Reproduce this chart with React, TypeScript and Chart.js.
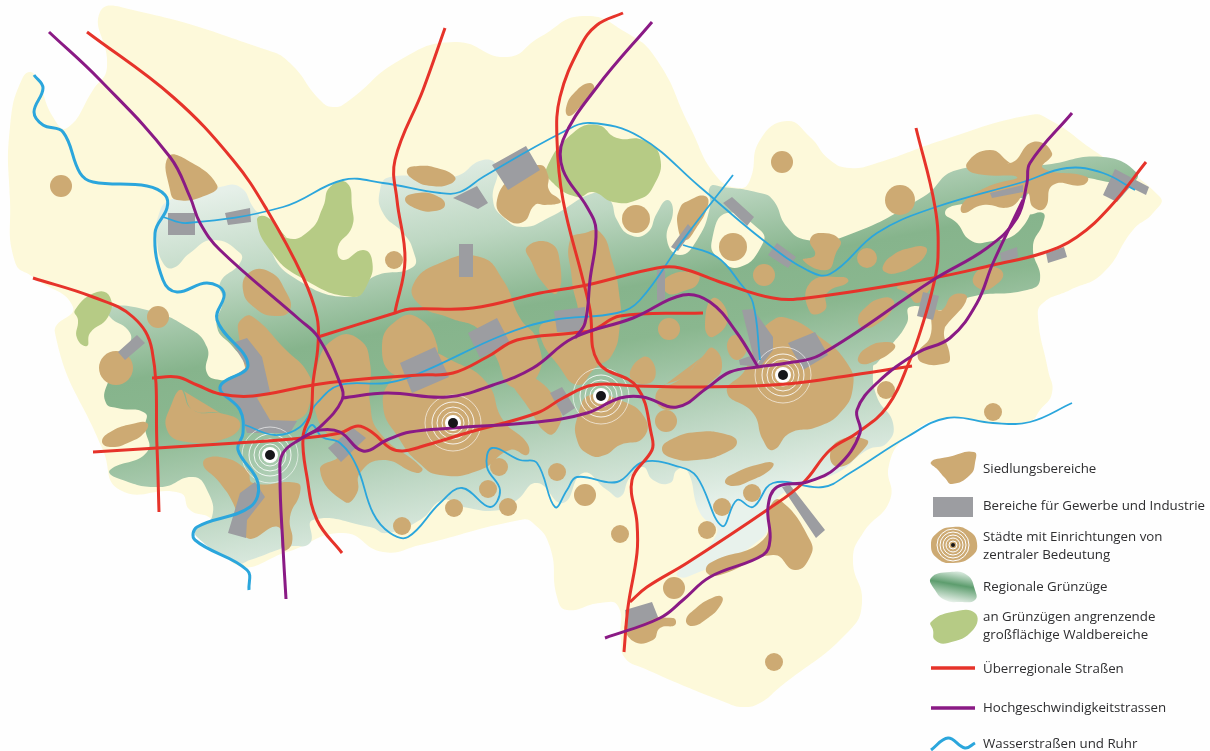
import React, { useEffect, useRef } from "react";
import { Chart, registerables } from "chart.js";

Chart.register(...registerables);

type P = number[];

const regionOutline: P[] = [[100,12],[133,10],[267,50],[290,63],[320,100],[333,107],[347,102],[400,60],[455,42],[507,57],[540,37],[583,16],[627,33],[657,60],[690,127],[717,177],[740,188],[750,180],[760,140],[787,121],[810,137],[830,160],[850,168],[877,163],[943,140],[1030,115],[1050,120],[1093,150],[1160,197],[1153,213],[1133,230],[1103,273],[1070,290],[1043,303],[1038,317],[1048,370],[1052,393],[1040,410],[1030,421],[993,424],[947,418],[907,437],[889,465],[890,500],[863,533],[853,560],[862,603],[847,633],[780,687],[760,703],[743,707],[727,703],[643,668],[625,658],[621,640],[618,606],[600,603],[567,610],[557,597],[550,547],[533,523],[520,520],[420,545],[383,552],[343,533],[287,552],[237,565],[212,520],[190,510],[180,493],[120,490],[103,450],[55,333],[73,307],[33,277],[15,262],[10,200],[10,127],[23,77],[34,74],[53,117],[67,128],[93,90],[107,67]];

const corridorOutline: P[] = [[158,217],[170,200],[220,187],[240,187],[253,207],[260,217],[267,243],[293,277],[353,297],[373,277],[413,267],[413,250],[403,233],[383,213],[380,190],[390,177],[453,177],[483,160],[497,167],[493,200],[503,217],[523,227],[550,217],[597,192],[610,200],[617,220],[630,235],[647,233],[657,213],[667,200],[673,210],[667,240],[680,255],[697,240],[710,207],[710,187],[723,187],[760,193],[773,200],[787,227],[807,240],[843,237],[923,197],[957,170],[1043,165],[1103,157],[1137,173],[1130,183],[1077,177],[1050,178],[1030,190],[1027,213],[1043,213],[1043,223],[1033,247],[1040,280],[1027,290],[970,297],[943,310],[910,307],[907,323],[890,347],[877,363],[873,367],[877,397],[893,423],[887,443],[867,450],[837,473],[803,483],[770,507],[763,537],[687,577],[677,573],[717,533],[700,513],[687,470],[677,470],[670,483],[653,480],[643,467],[630,477],[620,497],[607,490],[583,473],[563,503],[537,483],[517,500],[500,510],[463,507],[443,500],[420,520],[387,533],[370,527],[313,520],[310,543],[287,547],[250,560],[237,563],[197,537],[197,527],[212,517],[207,490],[193,477],[160,487],[117,478],[110,470],[147,452],[145,427],[145,413],[117,408],[106,403],[107,385],[130,343],[128,330],[110,317],[108,307],[147,310],[187,327],[207,347],[207,373],[220,380],[230,377],[247,367],[233,347],[217,327],[223,300],[220,283],[240,263],[240,253],[213,240],[190,253],[173,268],[163,263],[157,240]];

const yellowIslands: P[][] = [
  [[727,213],[760,230],[763,243],[740,267],[717,257],[712,240]],
  [[945,213],[957,205],[1027,200],[1020,230],[987,242],[970,240],[957,223]],
];

const forests: P[][] = [
  [[75,310],[97,292],[110,297],[108,317],[90,333],[87,346],[77,338],[78,320]],
  [[257,220],[267,217],[287,238],[310,230],[323,207],[330,187],[347,183],[352,207],[352,227],[338,247],[343,260],[363,250],[372,260],[368,283],[353,297],[300,277],[270,250]],
  [[547,167],[573,133],[597,125],[617,138],[643,140],[660,157],[653,187],[637,200],[613,202],[593,192],[577,197],[550,180]],
];

const settlements: P[][] = [
  [[168,157],[187,160],[217,185],[207,195],[177,200],[170,190]],
  [[250,272],[270,272],[285,290],[290,310],[275,316],[255,308],[243,290]],
  [[407,170],[418,166],[437,168],[455,177],[450,184],[432,186],[414,180]],
  [[405,199],[418,193],[437,196],[445,205],[435,211],[417,209]],
  [[497,200],[515,175],[540,165],[548,175],[549,190],[560,200],[560,203],[545,205],[535,205],[523,222],[505,218]],
  [[590,83],[594,90],[580,107],[569,116],[566,108],[575,92]],
  [[705,196],[708,205],[695,230],[685,240],[678,228],[680,208],[690,200]],
  [[820,233],[840,240],[836,253],[827,270],[803,260],[815,255],[810,240]],
  [[883,266],[893,255],[910,248],[925,247],[926,254],[915,265],[897,273],[885,272]],
  [[967,163],[990,150],[1010,163],[1033,142],[1052,153],[1043,168],[1087,177],[1083,185],[1053,185],[1045,208],[1033,207],[1027,193],[1010,207],[983,205],[963,213],[963,203],[987,187],[1017,177],[973,173]],
  [[810,283],[843,277],[848,282],[827,293],[825,310],[810,312]],
  [[858,320],[866,307],[882,298],[893,300],[892,310],[880,322],[865,328]],
  [[858,358],[868,347],[885,342],[895,345],[890,353],[875,361],[862,364]],
  [[973,278],[987,267],[1003,273],[993,287],[980,289]],
  [[897,287],[923,280],[935,280],[927,293],[917,303],[907,293]],
  [[953,295],[967,298],[945,327],[950,357],[947,363],[923,363],[918,353],[930,337],[933,310],[942,310]],
  [[787,318],[820,337],[847,363],[853,387],[840,413],[817,427],[790,433],[773,450],[763,440],[753,413],[727,392],[745,370],[757,340],[770,322]],
  [[662,449],[672,439],[697,432],[725,434],[737,442],[725,453],[697,460],[672,458]],
  [[725,481],[737,472],[760,464],[773,463],[770,470],[752,480],[733,486]],
  [[713,298],[728,317],[713,337],[705,327]],
  [[643,357],[655,367],[650,383],[630,377]],
  [[658,390],[683,377],[702,357],[713,348],[722,367],[710,383],[680,407],[660,407]],
  [[727,347],[735,335],[747,347],[737,360]],
  [[590,395],[620,400],[645,418],[643,438],[620,445],[605,455],[590,455],[577,440],[578,415]],
  [[585,233],[600,232],[612,260],[620,300],[620,325],[612,355],[595,368],[578,385],[558,365],[540,335],[545,322],[575,320],[572,280],[570,240]],
  [[527,247],[550,243],[560,263],[557,293],[543,283],[532,263]],
  [[440,263],[480,257],[503,280],[520,318],[537,340],[538,375],[512,387],[495,355],[480,330],[450,318],[420,305],[413,285]],
  [[395,375],[420,352],[455,362],[487,383],[503,420],[527,443],[527,455],[510,450],[480,470],[440,475],[418,462],[400,440],[383,405]],
  [[382,345],[397,320],[417,317],[437,345],[430,365],[395,375]],
  [[337,337],[360,340],[370,363],[370,403],[380,433],[422,468],[417,473],[383,460],[360,473],[357,493],[345,502],[320,470],[340,453],[317,417],[317,367]],
  [[243,318],[253,317],[283,347],[310,377],[310,403],[297,420],[270,420],[253,390],[238,330]],
  [[182,390],[193,410],[220,413],[240,423],[227,438],[187,442],[167,430],[172,403]],
  [[102,441],[112,431],[132,424],[147,423],[145,432],[130,442],[110,447]],
  [[203,463],[220,457],[247,470],[253,483],[297,483],[300,493],[290,517],[292,543],[283,550],[278,527],[247,538],[233,503],[220,483]],
  [[686,620],[695,609],[712,598],[722,597],[720,606],[708,618],[692,626]],
  [[770,507],[780,500],[810,540],[810,557],[795,570],[773,555],[720,575],[707,573],[710,563],[763,540]],
  [[627,623],[673,618],[675,625],[660,628],[653,640],[633,641]],
  [[867,440],[863,450],[840,467],[830,457],[840,440]],
  [[667,277],[697,273],[698,283],[687,290],[667,293]],
  [[510,375],[535,378],[560,410],[558,428],[548,434],[530,410]],
];

const towns: P[] = [[636,219,14],[733,247,14],[782,162,11],[764,275,11],[867,258,10],[900,200,15],[886,390,9],[993,412,9],[666,421,11],[669,329,11],[116,368,17],[158,317,11],[61,186,11],[394,260,9],[402,526,9],[454,508,9],[508,507,9],[488,489,9],[499,467,9],[557,472,9],[585,495,11],[620,534,9],[707,530,9],[722,507,9],[752,493,9],[674,588,11],[774,662,9]];

const industries: P[][] = [
  [[168,213],[195,213],[195,235],[168,235]],
  [[225,213],[250,208],[251,222],[228,225]],
  [[492,165],[526,146],[540,170],[508,190]],
  [[453,198],[477,186],[488,203],[478,209]],
  [[459,244],[473,244],[473,277],[459,277]],
  [[723,203],[732,197],[754,217],[747,226]],
  [[768,255],[777,243],[796,257],[788,268]],
  [[671,247],[688,224],[693,230],[678,251]],
  [[657,270],[665,270],[665,300],[657,300]],
  [[990,193],[1023,185],[1023,192],[992,198]],
  [[1115,169],[1149,187],[1146,195],[1130,187],[1117,202],[1103,195]],
  [[1046,253],[1064,247],[1067,257],[1048,263]],
  [[1000,253],[1017,247],[1018,257],[1002,263]],
  [[923,292],[939,296],[933,320],[917,316]],
  [[788,343],[815,332],[828,355],[803,370]],
  [[742,310],[753,309],[773,337],[773,350],[760,367],[740,365],[739,360],[753,355]],
  [[554,311],[585,307],[585,320],[578,332],[557,332]],
  [[468,333],[497,318],[510,343],[480,358]],
  [[400,363],[435,347],[449,377],[412,393]],
  [[550,393],[562,387],[575,408],[563,416]],
  [[328,448],[353,428],[366,438],[341,462]],
  [[232,343],[247,338],[262,357],[270,392],[257,398],[270,420],[297,421],[290,433],[247,433],[240,410],[220,393],[218,388],[247,367]],
  [[240,493],[255,482],[265,497],[247,520],[246,538],[228,533]],
  [[118,352],[137,335],[145,343],[125,360]],
  [[782,487],[790,485],[825,530],[816,538]],
  [[625,610],[652,602],[658,617],[628,630]],
];

const redRoads: P[][] = [
  [[87,32],[173,97],[233,160],[267,210],[303,277],[317,317],[318,345],[313,383],[311,412],[303,437],[307,477],[317,520],[342,553]],
  [[33,278],[93,297],[133,317],[152,350],[157,447],[159,512]],
  [[152,378],[177,377],[197,385],[220,394],[253,396],[313,385],[353,380],[420,375],[453,373],[487,357],[517,340],[573,333],[593,330],[620,316],[703,313]],
  [[445,28],[423,90],[395,160],[397,200],[405,260],[395,312]],
  [[318,337],[395,313],[410,309],[473,308],[540,293],[587,285],[657,268],[680,268],[723,283],[773,298],[807,298],[933,278],[993,265],[1043,253],[1077,237],[1110,207],[1146,162]],
  [[623,13],[597,25],[580,47],[560,97],[557,140],[563,200],[583,280],[590,310],[598,362],[637,387],[652,437],[652,450],[632,480],[637,523],[637,553],[628,607],[624,652]],
  [[93,452],[157,448],[237,443],[303,438],[340,433],[358,426],[373,433],[390,448],[403,451],[420,447],[470,432],[537,413],[563,398],[593,385],[637,386],[703,387],[787,384],[853,375],[912,366]],
  [[916,128],[935,207],[938,257],[933,287],[923,323],[910,360],[887,407],[857,433],[830,450],[803,483],[767,510],[687,563],[647,587],[630,602]],
];

const purpleRoutes: P[][] = [
  [[49,32],[100,80],[170,157],[190,197],[200,223],[220,250],[300,320],[318,337],[340,383],[342,400],[320,427],[302,438],[283,453],[280,477],[283,547],[286,599]],
  [[652,22],[597,87],[563,140],[563,170],[587,207],[596,230],[590,280],[585,323],[575,338]],
  [[342,398],[387,393],[447,397],[493,385],[533,368],[573,338],[633,318],[683,295],[710,302],[737,333],[758,367]],
  [[302,438],[320,430],[340,432],[363,451],[387,440],[410,432],[453,428],[537,422],[587,413],[620,398],[643,397],[677,407],[707,388],[730,372],[758,367],[787,363],[820,355],[933,280],[987,248],[1017,218],[1027,183],[1030,163],[1072,113]],
  [[605,638],[660,618],[683,600],[710,577],[763,555],[770,540],[768,507],[777,487],[807,482],[837,467],[860,433],[857,410],[877,383],[917,353],[950,338],[977,303],[993,263],[1023,200]],
];

const thickWaterways: P[][] = [
  [[34,75],[43,88],[34,112],[43,125],[63,132],[80,173],[93,182],[147,186],[165,195],[167,208],[155,233],[163,280],[177,292],[207,283],[224,293],[217,320],[248,365],[220,387],[240,410],[243,433],[238,450],[258,483],[250,507],[197,527],[195,540],[247,570],[249,590]],
];

const thinWaterways: P[][] = [
  [[163,217],[187,223],[283,207],[343,180],[383,183],[440,193],[460,192],[483,177],[563,132],[590,123],[640,137],[700,187],[763,240],[807,270],[830,274],[877,233],[933,208],[1023,182],[1067,168],[1103,173],[1135,190]],
  [[733,175],[683,240],[640,300],[617,313],[553,320],[503,335],[420,373],[387,383],[340,385],[317,403],[300,427],[275,435],[245,425]],
  [[683,245],[717,257],[740,283],[753,303],[760,360]],
  [[303,438],[312,425],[322,437],[340,443],[357,467],[373,513],[390,533],[408,537],[440,503],[462,488],[490,507],[500,490],[487,467],[492,448],[520,460],[537,463],[555,507],[567,490],[577,477],[617,482],[643,462],[680,467],[697,477],[722,526],[737,500],[753,507],[773,483],[823,487],[850,473],[907,437],[947,418],[993,423],[1030,422],[1072,403]],
];

const cities: P[] = [[270,455],[453,423],[601,396],[783,375]];
const ringSizes = [11, 16, 21, 28];

const legendLabels: [string, number][] = [
  ["Siedlungsbereiche", 469],
  ["Bereiche für Gewerbe und Industrie", 506],
  ["Städte mit Einrichtungen von", 537],
  ["zentraler Bedeutung", 555],
  ["Regionale Grünzüge", 587],
  ["an Grünzügen angrenzende", 617],
  ["großflächige Waldbereiche", 635],
  ["Überregionale Straßen", 669],
  ["Hochgeschwindigkeitstrassen", 708],
  ["Wasserstraßen und Ruhr", 744],
];

const keySettlement: P[] = [[931,462],[948,457],[974,452],[975,463],[970,475],[952,484],[945,478],[938,470]];
const keyIndustry: P[] = [[933,497],[973,497],[973,517],[933,517]];
const keyCity: P[] = [[931,545],[937,533],[953,527],[969,531],[977,543],[972,556],[953,563],[937,558]];
const keyCityCentre: P[] = [[953,545]];
const keyCityRings = [4, 7, 10, 13, 16];
const keyCorridor: P[] = [[931,578],[950,572],[967,575],[975,590],[975,600],[960,602],[945,600],[935,590]];
const keyForest: P[] = [[931,622],[952,612],[975,613],[973,630],[948,643],[935,640],[933,630]];
const keyRoad: P[] = [[931,668],[975,668]];
const keyRoute: P[] = [[931,708],[975,708]];
const keyWater: P[] = [[931,750],[948,738],[965,748],[975,743]];

const toXY = (pts: P[]) => pts.map(([x, y]) => ({ x, y }));
const closed = (pts: P[]) => toXY([...pts, pts[0], pts[1], pts[2]]);

const BASE = { showLine: true, pointRadius: 0, clip: false as const };
const blob = (pts: P[], color: any, tension = 0.5) => ({
  ...BASE, data: closed(pts), fill: "shape", backgroundColor: color, borderWidth: 0, tension,
});
const polygon = (pts: P[], color: any) => blob(pts, color, 0);
const stroke = (pts: P[], color: string, width: number) => ({
  ...BASE, data: toXY(pts), fill: false, borderColor: color, borderWidth: width, tension: 0.4, borderCapStyle: "butt",
});
const dots = (pts: P[], radius: number | number[], fill: string, line = "transparent", width = 0) => ({
  data: toXY(pts), showLine: false, pointRadius: radius, pointHoverRadius: radius, pointBackgroundColor: fill,
  pointBorderColor: line, pointBorderWidth: width, clip: false as const,
});

const TAN = "#cdaa73";
const GREY = "#9c9da1";
const YELLOW = "#fdf9da";
const FOREST = "#b6cb85";
const RED = "#e6332a";
const PURPLE = "#8a1a85";
const BLUE = "#2ba6dc";

export default function App() {
  const ref = useRef<HTMLCanvasElement>(null);
  useEffect(() => {
    const canvas = ref.current!;
    const ctx = canvas.getContext("2d")!;

    const band = ctx.createLinearGradient(563, 127, 637, 523);
    band.addColorStop(0, "#e6f0e9");
    band.addColorStop(0.22, "#bdd7c2");
    band.addColorStop(0.42, "#86b48c");
    band.addColorStop(0.55, "#8ab78f");
    band.addColorStop(0.78, "#bcd6c2");
    band.addColorStop(1, "#e8f2ec");

    const keyBand = ctx.createLinearGradient(956, 570, 950, 604);
    keyBand.addColorStop(0, "#e4f0e8");
    keyBand.addColorStop(0.42, "#5d9d6e");
    keyBand.addColorStop(1, "#fafcfa");

    const layers: any[] = [
      blob(regionOutline, YELLOW),
      blob(corridorOutline, band),
      ...yellowIslands.map((s) => blob(s, YELLOW)),
      ...forests.map((s) => blob(s, FOREST)),
      ...settlements.map((s) => blob(s, TAN)),
      dots(towns, towns.map((t) => t[2]), TAN),
      ...industries.map((s) => polygon(s, GREY)),
      ...ringSizes.map((r, i) => dots(cities, r, "transparent", i === 3 ? "rgba(255,255,255,0.6)" : "rgba(255,255,255,0.85)", 1)),
      dots(cities, 8, "#ffffff"),
      ...thinWaterways.map((s) => stroke(s, BLUE, 1.8)),
      ...thickWaterways.map((s) => stroke(s, BLUE, 3)),
      ...redRoads.map((s) => stroke(s, RED, 3)),
      ...purpleRoutes.map((s) => stroke(s, PURPLE, 3)),
      dots(cities, 5, "#16161a"),
      blob(keySettlement, TAN),
      polygon(keyIndustry, GREY),
      blob(keyCity, TAN),
      ...keyCityRings.map((r) => dots(keyCityCentre, r, "transparent", "#ffffff", 1)),
      dots(keyCityCentre, 2, "#16161a"),
      blob(keyCorridor, keyBand),
      blob(keyForest, FOREST),
      stroke(keyRoad, RED, 3.5),
      stroke(keyRoute, PURPLE, 3.5),
      stroke(keyWater, BLUE, 3),
    ];
    const datasets = layers.map((d, i) => ({ ...d, order: layers.length - i }));

    const legendText = {
      id: "legendText",
      afterDraw(chart: any) {
        const c = chart.ctx;
        c.save();
        c.font = '13.3px "Open Sans"';
        c.fillStyle = "#2e2e30";
        c.textBaseline = "middle";
        legendLabels.forEach(([t, y]) => c.fillText(t, chart.scales.x.getPixelForValue(983), chart.scales.y.getPixelForValue(y)));
        c.restore();
      },
    };

    const chart = new Chart(canvas, {
      type: "scatter",
      data: { datasets },
      options: {
        animation: false,
        responsive: false,
        events: [],
        layout: { padding: 0, autoPadding: false },
        scales: {
          x: { type: "linear", min: 0, max: 1210, display: false },
          y: { type: "linear", min: 0, max: 751, reverse: true, display: false },
        },
        plugins: { legend: { display: false }, tooltip: { enabled: false }, title: { display: false } },
      },
      plugins: [legendText],
    } as any);
    return () => chart.destroy();
  }, []);
  return (
    <div style={{ position: "fixed", left: 0, top: 0, width: 1210, height: 751, background: "#fefefe" }}>
      <canvas ref={ref} width={1210} height={751} style={{ display: "block" }} />
    </div>
  );
}
